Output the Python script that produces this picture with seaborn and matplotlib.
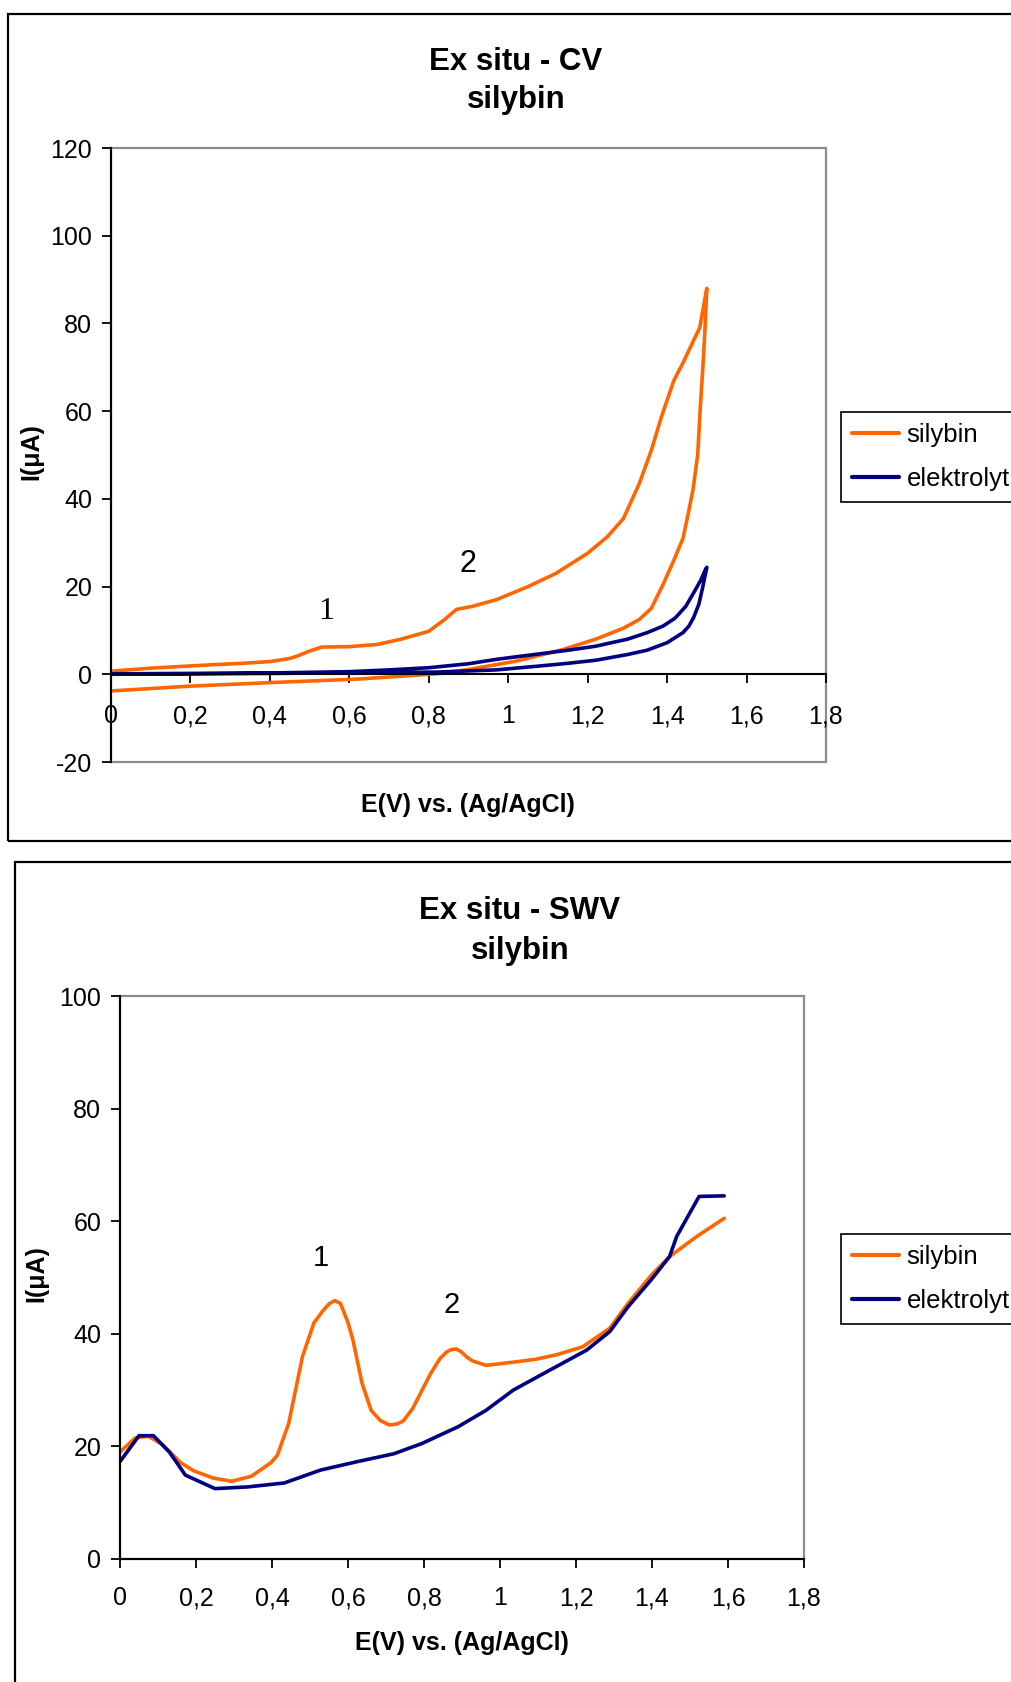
import numpy as np
import pandas as pd
import matplotlib
matplotlib.use("Agg")
import matplotlib.pyplot as plt
from matplotlib.patches import Rectangle
import seaborn as sns

# ---------------- data ----------------
series_names = ["silybin", "elektrolyt"]
series_colors = ["#FF6600", "#000080"]

# CV – silybin (forward then reverse scan)
cv_sil_E_fwd = [0.0, 0.1, 0.2, 0.26, 0.33, 0.40, 0.45, 0.47, 0.50, 0.53, 0.60, 0.67, 0.73,
                0.80, 0.84, 0.87, 0.91, 0.97, 1.05, 1.12, 1.20, 1.25, 1.29, 1.33, 1.36,
                1.385, 1.417, 1.44, 1.466, 1.482, 1.49, 1.50]
cv_sil_I_fwd = [0.7, 1.4, 1.9, 2.2, 2.5, 2.9, 3.6, 4.2, 5.3, 6.2, 6.3, 6.8, 8.0,
                9.8, 12.5, 14.8, 15.5, 17.0, 20.0, 23.0, 27.6, 31.4, 35.5, 43.5, 51.0,
                58.5, 67.0, 71.0, 76.0, 79.0, 83.0, 88.0]
cv_sil_E_rev = [1.50, 1.495, 1.49, 1.483, 1.477, 1.465, 1.454, 1.44, 1.417, 1.39, 1.36,
                1.33, 1.29, 1.22, 1.14, 1.02, 0.90, 0.83, 0.77, 0.62, 0.40, 0.20, 0.0]
cv_sil_I_rev = [88.0, 78.0, 70.0, 60.0, 50.0, 42.0, 37.0, 31.0, 26.0, 20.5, 15.0,
                12.5, 10.5, 8.0, 5.7, 3.0, 1.1, 0.2, -0.2, -1.1, -1.9, -2.7, -3.8]

# CV – elektrolyt
cv_ele_E_fwd = [0.0, 0.2, 0.4, 0.6, 0.7, 0.8, 0.9, 0.97, 1.03, 1.10, 1.16, 1.22, 1.30,
                1.35, 1.39, 1.42, 1.447, 1.467, 1.485, 1.497]
cv_ele_I_fwd = [0.1, 0.2, 0.3, 0.6, 1.0, 1.5, 2.4, 3.4, 4.1, 4.9, 5.6, 6.4, 8.0,
                9.5, 11.0, 12.8, 15.5, 18.6, 21.5, 24.0]
cv_ele_E_rev = [1.50, 1.49, 1.48, 1.467, 1.455, 1.44, 1.40, 1.35, 1.30, 1.22, 1.15,
                1.08, 0.97, 0.82, 0.66, 0.40, 0.20, 0.0]
cv_ele_I_rev = [24.4, 20.0, 16.0, 13.0, 11.0, 9.5, 7.2, 5.5, 4.5, 3.2, 2.5,
                1.9, 1.0, 0.5, 0.4, 0.2, 0.1, 0.0]

# SWV – silybin
swv_sil_E = [0.0, 0.04, 0.075, 0.11, 0.16, 0.193, 0.244, 0.293, 0.346, 0.397, 0.414,
             0.444, 0.48, 0.51, 0.533, 0.55, 0.565, 0.58, 0.60, 0.613, 0.637, 0.661,
             0.685, 0.709, 0.73, 0.745, 0.77, 0.795, 0.818, 0.842, 0.86, 0.872, 0.885,
             0.898, 0.912, 0.927, 0.963, 1.04, 1.096, 1.15, 1.218, 1.289, 1.337, 1.398,
             1.446, 1.518, 1.59]
swv_sil_I = [19.0, 21.5, 21.8, 20.4, 17.1, 15.7, 14.4, 13.8, 14.7, 17.1, 18.4,
             24.1, 35.9, 41.9, 44.0, 45.3, 45.9, 45.4, 42.0, 38.9, 31.2, 26.4,
             24.6, 23.8, 24.0, 24.5, 26.7, 30.0, 33.0, 35.6, 36.8, 37.2, 37.3,
             36.8, 35.9, 35.2, 34.4, 35.0, 35.5, 36.3, 37.7, 41.0, 45.4, 50.4,
             53.7, 57.3, 60.5]

# SWV – elektrolyt
swv_ele_E = [0.0, 0.05, 0.088, 0.13, 0.172, 0.25, 0.335, 0.432, 0.528, 0.625, 0.721,
             0.794, 0.89, 0.963, 1.035, 1.108, 1.228, 1.289, 1.337, 1.398, 1.446,
             1.465, 1.494, 1.524, 1.59]
swv_ele_I = [17.3, 21.9, 21.9, 19.0, 14.9, 12.5, 12.8, 13.5, 15.8, 17.3, 18.7,
             20.5, 23.5, 26.4, 30.0, 32.7, 37.1, 40.4, 44.8, 49.6, 53.7,
             57.3, 60.8, 64.4, 64.5]

x_ticks = [0, 0.2, 0.4, 0.6, 0.8, 1.0, 1.2, 1.4, 1.6, 1.8]
x_tick_labels = ["0", "0,2", "0,4", "0,6", "0,8", "1", "1,2", "1,4", "1,6", "1,8"]
cv_y_ticks = [-20, 0, 20, 40, 60, 80, 100, 120]
cv_y_tick_labels = ["-20", "0", "20", "40", "60", "80", "100", "120"]
swv_y_ticks = [0, 20, 40, 60, 80, 100]
swv_y_tick_labels = ["0", "20", "40", "60", "80", "100"]

cv_title = ["Ex situ - CV", "silybin"]
swv_title = ["Ex situ - SWV", "silybin"]
x_label = "E(V) vs. (Ag/AgCl)"
y_label = "I(μA)"

# ---------------- dataframes ----------------
def make_cv(E_f, I_f, E_r, I_r, name):
    E = list(E_f) + list(E_r)
    I = list(I_f) + list(I_r)
    return pd.DataFrame({"E": E, "I": I, "series": name, "order": np.arange(len(E))})

df_cv = pd.concat([
    make_cv(cv_sil_E_fwd, cv_sil_I_fwd, cv_sil_E_rev, cv_sil_I_rev, series_names[0]),
    make_cv(cv_ele_E_fwd, cv_ele_I_fwd, cv_ele_E_rev, cv_ele_I_rev, series_names[1]),
], ignore_index=True)

df_swv = pd.concat([
    pd.DataFrame({"E": swv_sil_E, "I": swv_sil_I, "series": series_names[0]}),
    pd.DataFrame({"E": swv_ele_E, "I": swv_ele_I, "series": series_names[1]}),
], ignore_index=True)

# ---------------- style ----------------
sns.set_style("white")
plt.rcParams["font.family"] = ["Liberation Sans", "DejaVu Sans"]
plt.rcParams["text.color"] = "black"
plt.rcParams["axes.labelcolor"] = "black"
plt.rcParams["xtick.color"] = "black"
plt.rcParams["ytick.color"] = "black"

W, H = 1011, 1682
fig = plt.figure(figsize=(W / 100, H / 100), dpi=100)

def fx(px):
    return px / W

def fy(py):
    return 1 - py / H

def ax_rect(l, t, r, b):
    return [l / W, 1 - b / H, (r - l) / W, (b - t) / H]

# outer chart frames
fig.add_artist(Rectangle((fx(8), fy(841)), fx(1100 - 8), (841 - 14) / H,
                         transform=fig.transFigure, fill=False, ec="black", lw=1.6))
fig.add_artist(Rectangle((fx(15), fy(1760)), fx(1100 - 15), (1760 - 862) / H,
                         transform=fig.transFigure, fill=False, ec="black", lw=1.6,
                         clip_on=False))

palette = dict(zip(series_names, series_colors))
LW = 2.6
TICK_FS = 18
LEG_FS = 18.5
LABEL_FS = 18


def style_axes(ax, yticks, ylabels, ylim, xpad):
    ax.set_xlim(0, 1.8)
    ax.set_ylim(*ylim)
    ax.set_xticks(x_ticks)
    ax.set_xticklabels(x_tick_labels)
    ax.set_yticks(yticks)
    ax.set_yticklabels(ylabels)
    ax.set_xlabel("")
    ax.set_ylabel("")
    for s in ["top", "right"]:
        ax.spines[s].set_visible(False)
    for s in ["left", "bottom"]:
        ax.spines[s].set_color("black")
        ax.spines[s].set_linewidth(1.5)
        ax.spines[s].set_zorder(3)
    ax.add_patch(Rectangle((0, 0), 1, 1, transform=ax.transAxes, fill=False,
                           ec="#8c8c8c", lw=1.6, zorder=0.5, clip_on=False))
    ax.tick_params(axis="both", direction="out", length=6.5, width=1.3,
                   colors="black", labelsize=TICK_FS, left=True, bottom=True)
    ax.tick_params(axis="x", pad=xpad)
    ax.tick_params(axis="y", pad=7)
    ax.grid(False)


def place_legend(ax, top_px):
    sns.move_legend(ax, loc="upper left", bbox_to_anchor=(fx(841), fy(top_px)),
                    bbox_transform=fig.transFigure, title=None, frameon=True,
                    fancybox=False, framealpha=1, edgecolor="black", fontsize=LEG_FS,
                    handlelength=1.85, handletextpad=0.28, borderpad=0.42,
                    labelspacing=0.78, borderaxespad=0)
    leg = ax.get_legend()
    leg.get_frame().set_linewidth(1.2)
    for t in leg.get_texts():
        t.set_color("black")
    for h in leg.get_lines():
        h.set_linewidth(LW + 0.4)


# ---------------- CV chart ----------------
ax1 = fig.add_axes(ax_rect(111, 148, 826, 762))
sns.lineplot(data=df_cv, x="E", y="I", hue="series", hue_order=series_names,
             palette=palette, sort=False, estimator=None, lw=LW, ax=ax1)
style_axes(ax1, cv_y_ticks, cv_y_tick_labels, (-20, 120), 15)
ax1.spines["bottom"].set_position(("data", 0))
ax1.text(0.542, 14.4, "1", fontsize=23, family="Liberation Serif",
         ha="center", va="center")
ax1.text(0.899, 25.2, "2", fontsize=22, ha="center", va="center")
place_legend(ax1, 412)

fig.text(fx(516), fy(70), cv_title[0], fontsize=22.5, fontweight="bold",
         ha="center", va="baseline")
fig.text(fx(516), fy(108), cv_title[1], fontsize=22.5, fontweight="bold",
         ha="center", va="baseline")
fig.text(fx(468), fy(812), x_label, fontsize=LABEL_FS, fontweight="bold",
         ha="center", va="baseline")
fig.text(fx(31), fy(452), y_label, fontsize=LABEL_FS, fontweight="bold",
         ha="center", va="center", rotation=90)

# ---------------- SWV chart ----------------
ax2 = fig.add_axes(ax_rect(120, 996, 804, 1559))
sns.lineplot(data=df_swv, x="E", y="I", hue="series", hue_order=series_names,
             palette=palette, sort=False, estimator=None, lw=LW, ax=ax2)
style_axes(ax2, swv_y_ticks, swv_y_tick_labels, (0, 100), 13)
ax2.text(0.528, 53.4, "1", fontsize=21, ha="center", va="center")
ax2.text(0.872, 45.1, "2", fontsize=21, ha="center", va="center")
place_legend(ax2, 1234)

fig.text(fx(520), fy(919), swv_title[0], fontsize=22.5, fontweight="bold",
         ha="center", va="baseline")
fig.text(fx(520), fy(959), swv_title[1], fontsize=22.5, fontweight="bold",
         ha="center", va="baseline")
fig.text(fx(462), fy(1650), x_label, fontsize=LABEL_FS, fontweight="bold",
         ha="center", va="baseline")
fig.text(fx(36), fy(1274), y_label, fontsize=LABEL_FS, fontweight="bold",
         ha="center", va="center", rotation=90)

fig.savefig("out.png", dpi=100)
